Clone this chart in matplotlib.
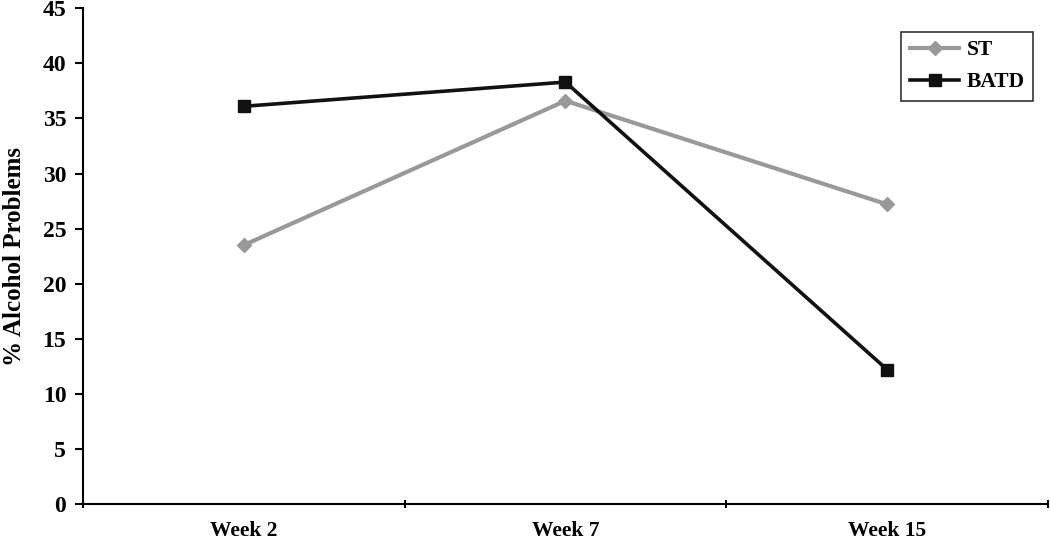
import matplotlib
matplotlib.use("Agg")
import matplotlib.pyplot as plt
import numpy as np

weeks = ["Week 2", "Week 7", "Week 15"]
st_values = [23.5, 36.6, 27.2]
batd_values = [36.1, 38.3, 12.2]
y_ticks = [0, 5, 10, 15, 20, 25, 30, 35, 40, 45]

plt.rcParams['font.family'] = ['Liberation Serif', 'DejaVu Serif']
plt.rcParams['font.weight'] = 'bold'

fig = plt.figure(figsize=(10.5, 5.4), dpi=100)
ax = fig.add_axes([0.079, 0.0667, 0.919, 0.918])

x = np.arange(len(weeks))
ax.plot(x, st_values, color='#999999', lw=3, marker='D', ms=7,
        label='ST')
ax.plot(x, batd_values, color='#111111', lw=2.6, marker='s', ms=8,
        label='BATD')

ax.set_xlim(-0.5, len(weeks) - 0.5)
ax.set_ylim(0, 45)
ax.set_yticks(y_ticks)
ax.set_yticklabels([str(t) for t in y_ticks], fontsize=17, fontweight='bold')

# category labels between boundary ticks, Excel style
ax.set_xticks(np.arange(len(weeks) + 1) - 0.5)
ax.set_xticklabels([])
ax.set_xticks(x, minor=True)
ax.set_xticklabels(weeks, minor=True, fontsize=15.5, fontweight='bold')
ax.tick_params(axis='x', which='minor', length=0, pad=12)
ax.tick_params(axis='x', which='major', length=6, width=1.5, direction='inout')
ax.tick_params(axis='y', length=6, width=1.5, direction='out', pad=6)

for side in ['top', 'right']:
    ax.spines[side].set_visible(False)
for side in ['left', 'bottom']:
    ax.spines[side].set_linewidth(1.5)

ax.set_ylabel('% Alcohol Problems', fontsize=18, fontweight='bold', labelpad=12)

leg = ax.legend(loc='upper right', bbox_to_anchor=(0.985, 0.953),
                frameon=True, fancybox=False, edgecolor='black',
                handlelength=2.3, handletextpad=0.35, borderpad=0.4,
                labelspacing=0.55, borderaxespad=0,
                prop={'weight': 'bold', 'size': 15.5})
leg.get_frame().set_linewidth(1.2)

fig.savefig('out.png', dpi=100)
